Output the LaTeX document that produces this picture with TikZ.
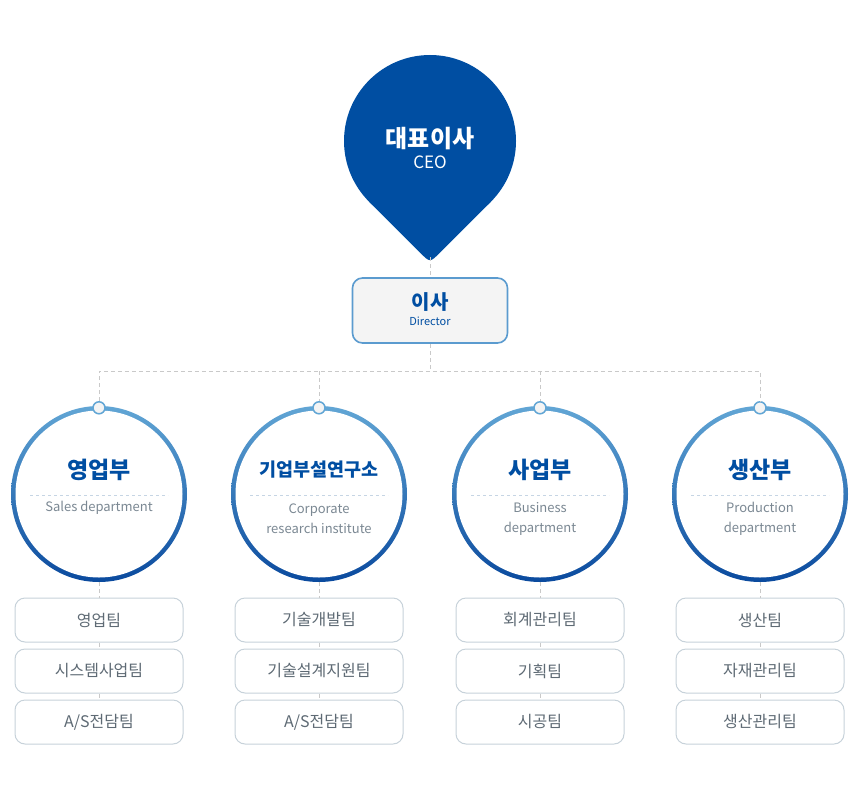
\documentclass[tikz,border=0pt]{standalone}
\usepackage{fontspec}
\setmainfont{Noto Sans CJK KR}
\usetikzlibrary{positioning}
\definecolor{ceoblue}{HTML}{004EA2}
\definecolor{ringtop}{HTML}{62A6D5}
\definecolor{ringbot}{HTML}{0A4A9E}
\definecolor{dirline}{HTML}{5B9BCF}
\definecolor{dirfill}{HTML}{F4F4F4}
\definecolor{dashgray}{HTML}{C9C9C9}
\definecolor{divline}{HTML}{C6D5E4}
\definecolor{subgray}{HTML}{7B8893}
\definecolor{boxline}{HTML}{C7D2DA}
\definecolor{boxtext}{HTML}{5E6A74}
\tikzset{
  link/.style={draw=dashgray, dash pattern=on 4pt off 3pt, line width=0.9pt},
  divider/.style={draw=divline, dash pattern=on 3pt off 3pt, line width=0.8pt},
  ring/.style={circle, minimum size=176pt, inner sep=0pt, top color=ringtop, bottom color=ringbot,
    path picture={\fill[white] (path picture bounding box.center) circle (83.5pt);}},
  ringdot/.style={circle, minimum size=12pt, inner sep=0pt, fill=dirfill, draw=ringtop, line width=1.5pt},
  dtitle/.style={font=\fontsize{23}{26}\selectfont\bfseries, text=ceoblue, inner sep=0pt},
  dsub/.style={font=\fontsize{13}{20}\selectfont, text=subgray, align=center, inner sep=0pt},
  team/.style={rectangle, rounded corners=10pt, minimum width=168pt, minimum height=44pt,
    draw=boxline, line width=1pt, fill=white, font=\fontsize{16}{18}\selectfont, text=boxtext}
}
\begin{document}
\begin{tikzpicture}[x=1pt, y=-1pt]
    \useasboundingbox (0,0) rectangle (859,800);
    % CEO pin
    \fill[ceoblue] (430,141) circle (86pt);
    \fill[ceoblue] (430,141) -- (369.2,201.8) -- (420.1,252.7) .. controls (430,262.6) .. (439.9,252.7) -- (490.8,201.8) -- cycle;
    \coordinate (ceotip) at (430,257);
    \node[font=\fontsize{24}{26}\selectfont\bfseries, text=white, inner sep=0pt] (ceo) at (430,139) {대표이사};
    \node[font=\fontsize{17}{18}\selectfont, text=white, inner sep=0pt] (ceoen) at (430,162) {CEO};
    % director
    \node[rectangle, rounded corners=10pt, minimum width=155pt, minimum height=65pt, draw=dirline,
      line width=1.6pt, fill=dirfill] (dir) at (430,310.5) {};
    \node[font=\fontsize{20}{22}\selectfont\bfseries, text=ceoblue, inner sep=0pt] (dirko) at (430,302) {이사};
    \node[font=\fontsize{11}{12}\selectfont, text=ceoblue, inner sep=0pt] (diren) at (430,321) {Director};
    \coordinate (bus) at (430,371);
    % departments
    \node[ring] (sales) at (99,494) {};
    \node[ring] (rnd) at (319,494) {};
    \node[ring] (biz) at (540,494) {};
    \node[ring] (prod) at (760,494) {};
    \node[ringdot] (salesdot) at ([yshift=-2pt]sales.north) {};
    \node[ringdot] (rnddot) at ([yshift=-2pt]rnd.north) {};
    \node[ringdot] (bizdot) at ([yshift=-2pt]biz.north) {};
    \node[ringdot] (proddot) at ([yshift=-2pt]prod.north) {};
    \node[dtitle] (salestitle) at (99,470) {영업부};
    \node[dtitle, font=\fontsize{18.5}{20}\selectfont\bfseries] (rndtitle) at (319,470) {기업부설연구소};
    \node[dtitle] (biztitle) at (540,470) {사업부};
    \node[dtitle] (prodtitle) at (760,470) {생산부};
    \draw[divider] ([xshift=-69pt,yshift=-1pt]sales.center) -- ([xshift=69pt,yshift=-1pt]sales.center);
    \draw[divider] ([xshift=-69pt,yshift=-1pt]rnd.center) -- ([xshift=69pt,yshift=-1pt]rnd.center);
    \draw[divider] ([xshift=-69pt,yshift=-1pt]biz.center) -- ([xshift=69pt,yshift=-1pt]biz.center);
    \draw[divider] ([xshift=-69pt,yshift=-1pt]prod.center) -- ([xshift=69pt,yshift=-1pt]prod.center);
    \node[dsub] (salessub) at (99,508) {Sales department};
    \node[dsub] (rndsub) at (319,518.5) {Corporate\\research institute};
    \node[dsub] (bizsub) at (540,518.5) {Business\\department};
    \node[dsub] (prodsub) at (760,518.5) {Production\\department};
    % teams
    \node[team] (sales1) at (99,620) {영업팀};
    \node[team, below=6pt of sales1] (sales2) {시스템사업팀};
    \node[team, below=6pt of sales2] (sales3) {A/S전담팀};
    \node[team] (rnd1) at (319,620) {기술개발팀};
    \node[team, below=6pt of rnd1] (rnd2) {기술설계지원팀};
    \node[team, below=6pt of rnd2] (rnd3) {A/S전담팀};
    \node[team] (biz1) at (540,620) {회계관리팀};
    \node[team, below=6pt of biz1] (biz2) {기획팀};
    \node[team, below=6pt of biz2] (biz3) {시공팀};
    \node[team] (prod1) at (760,620) {생산팀};
    \node[team, below=6pt of prod1] (prod2) {자재관리팀};
    \node[team, below=6pt of prod2] (prod3) {생산관리팀};
    % connectors
    \draw[link] (ceotip) -- (dir.north);
    \draw[link] (dir.south) -- (bus);
    \draw[link] (salesdot.north) -- (salesdot.north |- bus) -- (proddot.north |- bus) -- (proddot.north);
    \draw[link] (rnddot.north |- bus) -- (rnddot.north);
    \draw[link] (bizdot.north |- bus) -- (bizdot.north);
    \draw[link] (sales.south) -- (sales1.north);
    \draw[link] (sales1.south) -- (sales2.north);
    \draw[link] (sales2.south) -- (sales3.north);
    \draw[link] (rnd.south) -- (rnd1.north);
    \draw[link] (rnd1.south) -- (rnd2.north);
    \draw[link] (rnd2.south) -- (rnd3.north);
    \draw[link] (biz.south) -- (biz1.north);
    \draw[link] (biz1.south) -- (biz2.north);
    \draw[link] (biz2.south) -- (biz3.north);
    \draw[link] (prod.south) -- (prod1.north);
    \draw[link] (prod1.south) -- (prod2.north);
    \draw[link] (prod2.south) -- (prod3.north);
\end{tikzpicture}
\end{document}
